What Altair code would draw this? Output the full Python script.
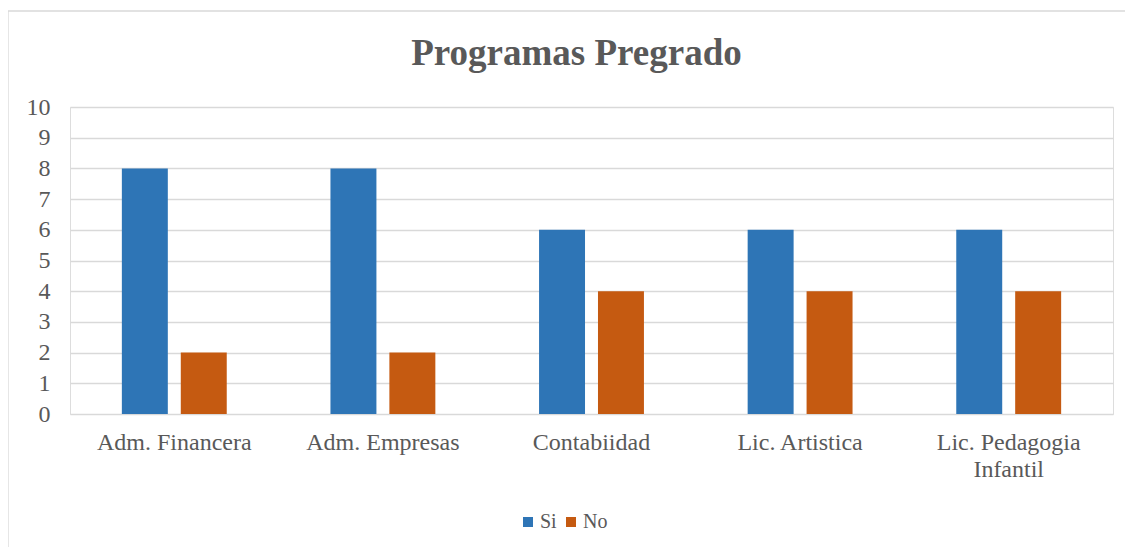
import altair as alt
import pandas as pd

categories = ["Adm. Financera", "Adm. Empresas", "Contabiidad", "Lic. Artistica", "Lic. Pedagogia Infantil"]
si_values = [8, 8, 6, 6, 6]
no_values = [2, 2, 4, 4, 4]
series = ["Si", "No"]
colors = ["#2E75B6", "#C55A11"]

rows = []
for c, s, n in zip(categories, si_values, no_values):
    rows.append({"Programa": c, "Respuesta": "Si", "Valor": s})
    rows.append({"Programa": c, "Respuesta": "No", "Valor": n})
df = pd.DataFrame(rows)

FONT = "Liberation Serif"
TXT = "#595959"
W, H = 1043, 307

bars = alt.Chart(df).mark_bar().encode(
    x=alt.X("Programa:N", sort=categories, title=None,
            scale=alt.Scale(paddingInner=0, paddingOuter=0),
            axis=alt.Axis(labelAngle=0, domain=False, ticks=False, labelPadding=28,
                          labelFontSize=24, labelFont=FONT, labelColor=TXT,
                          labelLineHeight=27, labelBaseline="middle",
                          labelExpr="datum.label == 'Lic. Pedagogia Infantil' ? ['Lic. Pedagogia', 'Infantil'] : datum.label")),
    xOffset=alt.XOffset("Respuesta:N", sort=series,
                        scale=alt.Scale(paddingInner=0.22, paddingOuter=0.88)),
    y=alt.Y("Valor:Q", title=None,
            scale=alt.Scale(domain=[0, 10]),
            axis=alt.Axis(values=list(range(0, 11)), domain=False, ticks=False,
                          labelPadding=20, labelFontSize=24, labelFont=FONT,
                          labelColor=TXT, gridColor="#D9D9D9", gridWidth=1.3)),
    color=alt.Color("Respuesta:N", sort=series,
                    scale=alt.Scale(domain=series, range=colors),
                    legend=alt.Legend(title=None, orient="none", direction="horizontal",
                                      legendX=448, legendY=405, symbolType="square",
                                      symbolSize=100, symbolStrokeWidth=0,
                                      labelFontSize=20, labelFont=FONT, labelColor=TXT,
                                      columnPadding=4, labelOffset=2)),
)

frame = alt.Chart(pd.DataFrame({"f": [0]})).mark_rect(
    fill=None, stroke="#D9D9D9", strokeWidth=1.3
).encode(
    x=alt.value(-62), x2=alt.value(1061),
    y=alt.value(-96), y2=alt.value(620),
)

chart = alt.layer(frame, bars).properties(
    width=W, height=H,
    title=alt.TitleParams("Programas Pregrado", font=FONT, fontSize=37, fontWeight="bold",
                          color=TXT, anchor="middle", dx=-15, offset=-63),
    autosize=alt.AutoSizeParams(type="none"),
    padding={"left": 62, "top": 99, "right": 12, "bottom": 133},
).configure_view(stroke=None).configure(background="white")

chart.save("out.html", embed_options={"renderer": "svg", "actions": False})
